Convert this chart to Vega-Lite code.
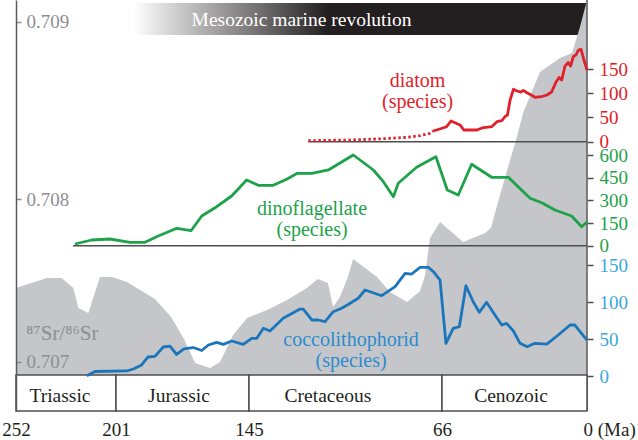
{
  "$schema": "https://vega.github.io/schema/vega-lite/v6.json",
  "width": 571,
  "height": 411,
  "autosize": {"type": "none"},
  "padding": {"left": 16, "top": 0, "right": 51, "bottom": 29},
  "background": "white",
  "config": {"font": "Liberation Serif", "view": {"stroke": null}, "axis": {"grid": false}},
  "datasets": {
    "one": [{"k": 1}],
    "sr": [
      {"ma": 252, "sr": 0.707453}, {"ma": 236.3, "sr": 0.707514}, {"ma": 228.7, "sr": 0.707514},
      {"ma": 222.8, "sr": 0.707453}, {"ma": 220.2, "sr": 0.70733}, {"ma": 215.1, "sr": 0.707299},
      {"ma": 209.2, "sr": 0.707521}, {"ma": 203.0, "sr": 0.707521}, {"ma": 196.4, "sr": 0.70749},
      {"ma": 184.6, "sr": 0.707385}, {"ma": 177.8, "sr": 0.707275}, {"ma": 172.4, "sr": 0.70714},
      {"ma": 167.7, "sr": 0.706992}, {"ma": 161.4, "sr": 0.706961}, {"ma": 157.2, "sr": 0.706998},
      {"ma": 151.7, "sr": 0.707164}, {"ma": 145.8, "sr": 0.707269}, {"ma": 137.6, "sr": 0.707318},
      {"ma": 129.4, "sr": 0.707379}, {"ma": 121.3, "sr": 0.707453}, {"ma": 116.8, "sr": 0.707508},
      {"ma": 112.7, "sr": 0.707484}, {"ma": 110.6, "sr": 0.707336}, {"ma": 107.8, "sr": 0.707398},
      {"ma": 104.5, "sr": 0.707521}, {"ma": 102.4, "sr": 0.707631}, {"ma": 92.6, "sr": 0.707521},
      {"ma": 87.3, "sr": 0.707428}, {"ma": 80.3, "sr": 0.707367}, {"ma": 75.0, "sr": 0.707435},
      {"ma": 73.0, "sr": 0.707527}, {"ma": 70.9, "sr": 0.70776}, {"ma": 66.8, "sr": 0.707859},
      {"ma": 56.4, "sr": 0.707736}, {"ma": 46.4, "sr": 0.707791}, {"ma": 43.7, "sr": 0.707822},
      {"ma": 40.5, "sr": 0.707982}, {"ma": 35.0, "sr": 0.70822}, {"ma": 32.3, "sr": 0.708333},
      {"ma": 29.1, "sr": 0.708485}, {"ma": 21.4, "sr": 0.708716}, {"ma": 12.3, "sr": 0.708795},
      {"ma": 6.8, "sr": 0.708823}, {"ma": 3.2, "sr": 0.70897}, {"ma": 0, "sr": 0.709122}
    ],
    "diatom_inferred": [
      {"ma": 120.7, "n": 2.1}, {"ma": 103.7, "n": 3.5}, {"ma": 90.0, "n": 6.2}, {"ma": 80.4, "n": 9.1},
      {"ma": 75.0, "n": 12.4}, {"ma": 70.9, "n": 17.3}, {"ma": 69.6, "n": 22.1}
    ],
    "diatom": [
      {"ma": 69.6, "n": 22.1}, {"ma": 68.2, "n": 24.1}, {"ma": 63.9, "n": 30.9}, {"ma": 61.9, "n": 42.7},
      {"ma": 59.6, "n": 38.0}, {"ma": 57.8, "n": 34.5}, {"ma": 56.0, "n": 24.1}, {"ma": 50.1, "n": 24.1},
      {"ma": 47.8, "n": 28.3}, {"ma": 43.4, "n": 30.9}, {"ma": 41.0, "n": 41.3}, {"ma": 38.7, "n": 43.7},
      {"ma": 37.3, "n": 52.0}, {"ma": 36.2, "n": 55.1}, {"ma": 35.0, "n": 86.0}, {"ma": 33.5, "n": 108.1},
      {"ma": 31.9, "n": 104.6}, {"ma": 30.1, "n": 102.5}, {"ma": 29.0, "n": 106.0}, {"ma": 27.3, "n": 101.1},
      {"ma": 25.0, "n": 95.3}, {"ma": 23.7, "n": 91.6}, {"ma": 20.9, "n": 92.8}, {"ma": 18.2, "n": 96.3},
      {"ma": 16.1, "n": 102.5}, {"ma": 14.1, "n": 123.2}, {"ma": 12.7, "n": 132.5}, {"ma": 11.5, "n": 127.3},
      {"ma": 10.0, "n": 156.2}, {"ma": 8.5, "n": 163.4}, {"ma": 7.5, "n": 156.2}, {"ma": 6.2, "n": 175.8},
      {"ma": 5.0, "n": 178.9}, {"ma": 3.9, "n": 189.2}, {"ma": 2.7, "n": 190.6}, {"ma": 1.4, "n": 168.6},
      {"ma": 0, "n": 148.0}
    ],
    "dino": [
      {"ma": 221.9, "n": 11.2}, {"ma": 213.4, "n": 37.7}, {"ma": 204.1, "n": 44.3}, {"ma": 195.1, "n": 22.5},
      {"ma": 188.8, "n": 22.5}, {"ma": 183.2, "n": 64.2}, {"ma": 175.4, "n": 115.1}, {"ma": 169.4, "n": 99.2},
      {"ma": 164.9, "n": 196.5}, {"ma": 158.6, "n": 258.0}, {"ma": 152.3, "n": 328.8}, {"ma": 146.0, "n": 434.6},
      {"ma": 141.2, "n": 399.5}, {"ma": 135.1, "n": 399.5}, {"ma": 129.6, "n": 439.2}, {"ma": 125.2, "n": 478.9},
      {"ma": 119.3, "n": 478.9}, {"ma": 112.5, "n": 500.8}, {"ma": 102.3, "n": 600.0}, {"ma": 94.1, "n": 500.8},
      {"ma": 90.0, "n": 423.4}, {"ma": 85.9, "n": 324.1}, {"ma": 83.9, "n": 412.8}, {"ma": 76.4, "n": 518.6},
      {"ma": 68.5, "n": 588.7}, {"ma": 63.6, "n": 368.5}, {"ma": 58.6, "n": 335.4}, {"ma": 52.5, "n": 538.5},
      {"ma": 43.4, "n": 452.5}, {"ma": 35.8, "n": 452.5}, {"ma": 25.9, "n": 313.6}, {"ma": 20.6, "n": 284.4},
      {"ma": 14.6, "n": 236.2}, {"ma": 7.0, "n": 196.5}, {"ma": 2.4, "n": 125.7}, {"ma": 0, "n": 156.8}
    ],
    "cocco": [
      {"ma": 215.9, "n": 0.4}, {"ma": 211.7, "n": 6.1}, {"ma": 196.5, "n": 6.8}, {"ma": 193.7, "n": 9.5},
      {"ma": 190.2, "n": 14.9}, {"ma": 187.5, "n": 25.7}, {"ma": 184.6, "n": 26.6}, {"ma": 181.1, "n": 39.2},
      {"ma": 178.3, "n": 40.5}, {"ma": 175.5, "n": 29.1}, {"ma": 172.4, "n": 36.5}, {"ma": 168.5, "n": 38.5},
      {"ma": 164.9, "n": 34.5}, {"ma": 162.1, "n": 41.9}, {"ma": 158.6, "n": 45.5}, {"ma": 155.8, "n": 42.8},
      {"ma": 152.3, "n": 47.3}, {"ma": 147.4, "n": 42.8}, {"ma": 143.9, "n": 50.9}, {"ma": 141.8, "n": 50.9},
      {"ma": 139.1, "n": 64.5}, {"ma": 136.4, "n": 60.8}, {"ma": 131.0, "n": 78.0}, {"ma": 124.1, "n": 90.5},
      {"ma": 122.8, "n": 90.5}, {"ma": 119.3, "n": 75.7}, {"ma": 116.6, "n": 75.7}, {"ma": 113.9, "n": 73.4},
      {"ma": 110.5, "n": 86.9}, {"ma": 107.1, "n": 91.5}, {"ma": 104.4, "n": 96.6}, {"ma": 100.3, "n": 105.0},
      {"ma": 97.5, "n": 116.2}, {"ma": 90.7, "n": 108.5}, {"ma": 85.2, "n": 120.7}, {"ma": 81.1, "n": 138.8},
      {"ma": 78.4, "n": 137.8}, {"ma": 75.0, "n": 146.9}, {"ma": 71.6, "n": 146.9}, {"ma": 69.5, "n": 140.9},
      {"ma": 66.8, "n": 129.7}, {"ma": 64.2, "n": 44.2}, {"ma": 60.9, "n": 64.5}, {"ma": 58.1, "n": 66.6},
      {"ma": 55.1, "n": 122.0}, {"ma": 51.8, "n": 100.4}, {"ma": 49.0, "n": 86.1}, {"ma": 45.7, "n": 99.6},
      {"ma": 41.9, "n": 82.4}, {"ma": 38.8, "n": 68.9}, {"ma": 36.6, "n": 71.2}, {"ma": 33.5, "n": 60.8},
      {"ma": 30.5, "n": 44.2}, {"ma": 27.2, "n": 39.6}, {"ma": 23.7, "n": 44.2}, {"ma": 18.3, "n": 43.2},
      {"ma": 13.1, "n": 55.4}, {"ma": 7.7, "n": 68.9}, {"ma": 5.5, "n": 68.9}, {"ma": 1.7, "n": 54.5},
      {"ma": 0, "n": 48.6}
    ],
    "periods": [
      {"name": "Triassic", "start": 252, "end": 201, "label_ma": 229.6},
      {"name": "Jurassic", "start": 201, "end": 145, "label_ma": 174.5},
      {"name": "Cretaceous", "start": 145, "end": 66, "label_ma": 112.7},
      {"name": "Cenozoic", "start": 66, "end": 0, "label_ma": 34.6}
    ]
  },
  "layer": [
    {
      "layer": [
        {
          "data": {"name": "one"},
          "mark": {"type": "rect", "fill": {"gradient": "linear", "x1": 0, "y1": 0, "x2": 1, "y2": 0,
            "stops": [{"offset": 0, "color": "#ffffff"}, {"offset": 0.43, "color": "#231f20"}, {"offset": 1, "color": "#231f20"}]}},
          "encoding": {
            "x": {"datum": 193.8, "type": "quantitative"},
            "x2": {"datum": 0},
            "y": {"datum": 0.709105, "type": "quantitative"},
            "y2": {"datum": 0.708925}
          }
        },
        {
          "data": {"name": "sr"},
          "mark": {"type": "area", "color": "#c5c6c9", "interpolate": "linear"},
          "encoding": {
            "x": {
              "field": "ma",
              "type": "quantitative",
              "scale": {"domain": [252, 201, 145, 66, 0], "range": [0, 100, 233, 426, 571], "nice": false, "zero": false},
              "axis": {
                "title": null,
                "values": [252, 201, 145, 66, 0],
                "ticks": false,
                "domain": false,
                "labelFlush": false,
                "labelOverlap": false,
                "labelFontSize": 19,
                "labelColor": "#231f20",
                "labelPadding": 9,
                "labelExpr": "datum.value == 0 ? '0 (Ma)' : datum.label",
                "labelAlign": {"condition": {"test": "datum.value == 0", "value": "left"}, "value": "center"},
                "labelOffset": {"condition": {"test": "datum.value == 0", "value": -4}, "value": 0}
              }
            },
            "y": {
              "field": "sr",
              "type": "quantitative",
              "scale": {"domain": [0.706697, 0.707, 0.708, 0.709, 0.709122], "range": [411, 361.7, 199, 21.7, 0], "nice": false, "zero": false},
              "axis": {
                "orient": "left",
                "title": null,
                "values": [0.707, 0.708, 0.709],
                "format": ".3f",
                "tickSize": -5,
                "labelPadding": -5,
                "labelAlign": "left",
                "labelColor": "#8e8e90",
                "labelFontSize": 19,
                "tickColor": "#8e8e90",
                "tickWidth": 1.5,
                "domainColor": "#5a5a5c",
                "domainWidth": 1.5,
                "zindex": 1
              }
            },
            "y2": {"datum": 0.706918}
          }
        },
        {
          "data": {"name": "one"},
          "mark": {"type": "rule", "color": "#5a5a5c", "strokeWidth": 1.5},
          "encoding": {"x": {"datum": 0, "type": "quantitative"}}
        },
        {
          "data": {"name": "periods"},
          "mark": {"type": "rect", "fill": "white", "stroke": "#4d4d4f", "strokeWidth": 1.5},
          "encoding": {
            "x": {"field": "start", "type": "quantitative"},
            "x2": {"field": "end"},
            "y": {"datum": 0.706918, "type": "quantitative"},
            "y2": {"datum": 0.706697}
          }
        },
        {
          "data": {"name": "periods"},
          "mark": {"type": "text", "fontSize": 19.5, "color": "#231f20", "align": "center", "baseline": "alphabetic"},
          "encoding": {
            "x": {"field": "label_ma", "type": "quantitative"},
            "y": {"datum": 0.706754, "type": "quantitative"},
            "text": {"field": "name"}
          }
        },
        {
          "data": {"name": "one"},
          "mark": {"type": "text", "text": "Mesozoic marine revolution", "fontSize": 19.5, "color": "#ffffff", "align": "center", "baseline": "alphabetic"},
          "encoding": {
            "x": {"datum": 123.5, "type": "quantitative"},
            "y": {"datum": 0.708976, "type": "quantitative"}
          }
        },
        {
          "data": {"name": "one"},
          "mark": {"type": "text", "text": "⁸⁷Sr/⁸⁶Sr", "fontSize": 21, "color": "#8e8e90", "align": "left", "baseline": "alphabetic"},
          "encoding": {
            "x": {"datum": 246.9, "type": "quantitative"},
            "y": {"datum": 0.707133, "type": "quantitative"}
          }
        }
      ]
    },
    {
      "layer": [
        {
          "data": {"name": "one"},
          "mark": {"type": "rule", "color": "#4d4d4f", "strokeWidth": 1.5},
          "encoding": {
            "x": {"datum": 120.8, "type": "quantitative"},
            "x2": {"datum": 0},
            "y": {"datum": 0, "type": "quantitative"}
          }
        },
        {
          "data": {"name": "diatom_inferred"},
          "mark": {"type": "line", "color": "#e2202b", "strokeWidth": 2.8, "strokeDash": [2.5, 2.5]},
          "encoding": {
            "x": {"field": "ma", "type": "quantitative"},
            "y": {"field": "n", "type": "quantitative"}
          }
        },
        {
          "data": {"name": "diatom"},
          "mark": {"type": "line", "color": "#e2202b", "strokeWidth": 2.8, "strokeJoin": "round"},
          "encoding": {
            "x": {"field": "ma", "type": "quantitative"},
            "y": {
              "field": "n",
              "type": "quantitative",
              "scale": {"domain": [0, 150], "range": [141.7, 69], "nice": false, "zero": false},
              "axis": {
                "orient": "right", "title": null, "values": [0, 50, 100, 150], "domain": false,
                "tickSize": 6, "tickColor": "#4d4d4f", "tickWidth": 1.5, "labelPadding": 6,
                "labelColor": "#e2202b", "labelFontSize": 19, "labelOverlap": false
              }
            }
          }
        },
        {
          "data": {"name": "one"},
          "mark": {"type": "text", "text": ["diatom", "(species)"], "lineHeight": 21, "fontSize": 20, "color": "#e2202b", "align": "center", "baseline": "top"},
          "encoding": {
            "x": {"datum": 76.0, "type": "quantitative"},
            "y": {"datum": 145.9, "type": "quantitative"}
          }
        }
      ]
    },
    {
      "layer": [
        {
          "data": {"name": "one"},
          "mark": {"type": "rule", "color": "#4d4d4f", "strokeWidth": 1.5},
          "encoding": {
            "x": {"datum": 222.9, "type": "quantitative"},
            "x2": {"datum": 0},
            "y": {"datum": 0, "type": "quantitative"}
          }
        },
        {
          "data": {"name": "dino"},
          "mark": {"type": "line", "color": "#1da24a", "strokeWidth": 2.8, "strokeJoin": "round"},
          "encoding": {
            "x": {"field": "ma", "type": "quantitative"},
            "y": {
              "field": "n",
              "type": "quantitative",
              "scale": {"domain": [0, 600], "range": [245.7, 155], "nice": false, "zero": false},
              "axis": {
                "orient": "right", "title": null, "values": [0, 150, 300, 450, 600], "domain": false,
                "tickSize": 6, "tickColor": "#4d4d4f", "tickWidth": 1.5, "labelPadding": 6,
                "labelColor": "#1da24a", "labelFontSize": 19, "labelOverlap": false
              }
            }
          }
        },
        {
          "data": {"name": "one"},
          "mark": {"type": "text", "text": ["dinoflagellate", "(species)"], "lineHeight": 21, "fontSize": 20, "color": "#1da24a", "align": "center", "baseline": "top"},
          "encoding": {
            "x": {"datum": 119.2, "type": "quantitative"},
            "y": {"datum": 308.9, "type": "quantitative"}
          }
        }
      ]
    },
    {
      "layer": [
        {
          "data": {"name": "cocco"},
          "mark": {"type": "line", "color": "#1b75bb", "strokeWidth": 2.8, "strokeJoin": "round"},
          "encoding": {
            "x": {"field": "ma", "type": "quantitative"},
            "y": {
              "field": "n",
              "type": "quantitative",
              "scale": {"domain": [0, 150], "range": [376, 265], "nice": false, "zero": false},
              "axis": {
                "orient": "right", "title": null, "values": [0, 50, 100, 150], "domain": false,
                "tickSize": 6, "tickColor": "#4d4d4f", "tickWidth": 1.5, "labelPadding": 6,
                "labelColor": "#3aa8dc", "labelFontSize": 19, "labelOverlap": false
              }
            }
          }
        },
        {
          "data": {"name": "one"},
          "mark": {"type": "text", "text": ["coccolithophorid", "(species)"], "lineHeight": 21, "fontSize": 20, "color": "#2b8cce", "align": "center", "baseline": "top"},
          "encoding": {
            "x": {"datum": 103.2, "type": "quantitative"},
            "y": {"datum": 62.2, "type": "quantitative"}
          }
        }
      ]
    }
  ],
  "resolve": {"scale": {"y": "independent"}}
}
